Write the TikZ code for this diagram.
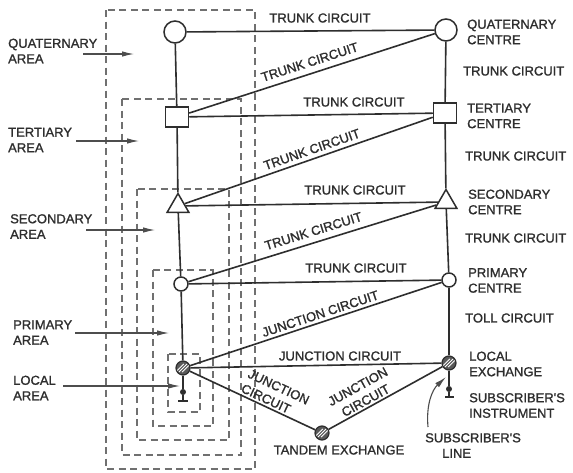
\documentclass[tikz,border=0pt]{standalone}
\usepackage{fontspec}
\setmainfont{Liberation Sans}
\newfontfamily\lblfont{Liberation Sans}[FakeBold=1.2]
\usetikzlibrary{shapes.geometric, arrows.meta}
\definecolor{ink}{HTML}{2E2E2E}
\definecolor{areagray}{HTML}{707070}
\begin{document}
\begin{tikzpicture}[x=1pt,y=-1pt,
  txt/.style={font=\lblfont\fontsize{13}{15.5}\selectfont, text=ink, inner sep=0pt, align=left},
  conn/.style={draw=ink, line width=1.6pt},
  area/.style={draw=areagray, line width=1.2pt, dash pattern=on 7pt off 4.5pt},
  pointer/.style={draw=ink!85, line width=1.1pt, -{Latex[length=12pt,width=5.5pt]}},
  bigc/.style={circle, draw=ink, line width=1.5pt, fill=white, minimum size=22pt, inner sep=0pt},
  sqn/.style={rectangle, draw=ink, line width=1.5pt, fill=white, minimum width=23pt, minimum height=20pt, inner sep=0pt},
  trin/.style={regular polygon, regular polygon sides=3, draw=ink, line width=1.5pt, fill=white, minimum size=25pt, inner sep=0pt},
  smc/.style={circle, draw=ink, line width=1.5pt, fill=white, minimum size=14pt, inner sep=0pt},
  hatc/.style={circle, draw=ink, line width=1.2pt, fill=gray!70!black, minimum size=14pt, inner sep=0pt,
    path picture={
      \foreach \c in {-3.2,0,3.2}{
        \draw[white, line width=0.8pt] ([shift={(\c pt-4pt,-4pt)}]path picture bounding box.center) -- ++(8pt,8pt);}
    }},
  dotn/.style={circle, fill=ink, minimum size=6pt, inner sep=0pt},
]
\useasboundingbox (0,0) rectangle (573,472);
\fill[white] (0,0) rectangle (573,472);

% area boxes
\draw[area] (106,10) rectangle (255,469);
\draw[area] (122,99) rectangle (241,455);
\draw[area] (137,189) rectangle (229,440);
\draw[area] (153,270) rectangle (213,426);
\draw[area] (168,354) rectangle (200,412);

% exchanges
\node[bigc] (qL) at (175,32) {};
\node[bigc] (qR) at (446,30) {};
\node[sqn] (tL) at (177,117) {};
\node[sqn] (tR) at (445,113) {};
\node[trin] (sL) at (178,206) {};
\node[trin] (sR) at (446,202) {};
\node[smc] (pL) at (181,284) {};
\node[smc] (pR) at (449,280) {};
\node[hatc] (lL) at (183,368) {};
\node[hatc] (lR) at (449,363) {};
\node[hatc] (tand) at (322,433) {};
\node[dotn] (iL) at (183,392) {};
\node[dotn] (iR) at (449,389) {};
\coordinate (bL) at (183,401);
\coordinate (bL1) at (178,401);
\coordinate (bL2) at (188,401);
\coordinate (bR) at (449,397);
\coordinate (bR1) at (445,397);
\coordinate (bR2) at (454,397);

% verticals
\draw[conn] (qL) -- (tL);
\draw[conn] (tL) -- (sL);
\draw[conn] (sL) -- (pL);
\draw[conn] (pL) -- (lL);
\draw[conn] (lL) -- (iL);
\draw[conn] (iL) -- (bL);
\draw[conn] (bL1) -- (bL2);
\draw[conn] (qR) -- (tR);
\draw[conn] (tR) -- (sR);
\draw[conn] (sR) -- (pR);
\draw[conn] (pR) -- (lR);
\draw[conn] (lR) -- (iR);
\draw[conn] (iR) -- (bR);
\draw[conn] (bR1) -- (bR2);

% horizontals
\draw[conn] (qL) -- (qR);
\draw[conn] (tL) -- (tR);
\draw[conn] (sL) -- (sR);
\draw[conn] (pL) -- (pR);
\draw[conn] (lL) -- (lR);

% diagonals
\draw[conn] (tL) -- node[txt, sloped, above=6pt, pos=0.505] {TRUNK CIRCUIT} (qR);
\draw[conn] (sL) -- node[txt, sloped, above=4pt, pos=0.525] {TRUNK CIRCUIT} (tR);
\draw[conn] (pL) -- node[txt, sloped, above=6pt, pos=0.518] {TRUNK CIRCUIT} (sR);
\draw[conn] (lL) -- node[txt, sloped, above=3pt, pos=0.528] {JUNCTION CIRCUIT} (pR);
\draw[conn] (lL) -- node[txt, sloped, above=2pt, pos=0.63, font=\lblfont\fontsize{13}{16}\selectfont] {JUNCTION\\CIRCUIT} (tand);
\draw[conn] (tand) -- node[txt, sloped, above=2pt, pos=0.356, align=center, font=\lblfont\fontsize{13}{16}\selectfont] {JUNCTION\\CIRCUIT} (lR);

% horizontal labels
\node[txt] (h1) at (320,18) {TRUNK CIRCUIT};
\node[txt] (h2) at (354,102) {TRUNK CIRCUIT};
\node[txt] (h3) at (355,190) {TRUNK CIRCUIT};
\node[txt] (h4) at (356,268) {TRUNK CIRCUIT};
\node[txt] (h5) at (340,356) {JUNCTION CIRCUIT};
\node[txt] (tandT) at (339,450) {TANDEM EXCHANGE};

% right labels
\node[txt, anchor=west] (rq) at (467,32) {QUATERNARY\\CENTRE};
\node[txt, anchor=west] (r1) at (463,71) {TRUNK CIRCUIT};
\node[txt, anchor=west] (rt) at (467,116) {TERTIARY\\CENTRE};
\node[txt, anchor=west] (r2) at (465,156) {TRUNK CIRCUIT};
\node[txt, anchor=west] (rs) at (468,202) {SECONDARY\\CENTRE};
\node[txt, anchor=west] (r3) at (465,238) {TRUNK CIRCUIT};
\node[txt, anchor=west] (rp) at (468,280.5) {PRIMARY\\CENTRE};
\node[txt, anchor=west] (r4) at (465,318) {TOLL CIRCUIT};
\node[txt, anchor=west] (rl) at (469,364) {LOCAL\\EXCHANGE};
\node[txt, anchor=west] (ri) at (469,405.5) {SUBSCRIBER'S\\INSTRUMENT};
\node[txt, anchor=west] (sl) at (425,445.5) {SUBSCRIBER'S\\\hspace*{17pt}LINE};
\coordinate (slA) at (428,427);
\coordinate (slB) at (446,377);
\draw[pointer] (slA) .. controls (426,405) and (432,390) .. (slB);

% left labels
\node[txt, anchor=west] (qa) at (8,51) {QUATERNARY\\AREA};
\node[txt, anchor=west] (ta) at (8,140) {TERTIARY\\AREA};
\node[txt, anchor=west] (sa) at (10,226.5) {SECONDARY\\AREA};
\node[txt, anchor=west] (pa) at (13,332.5) {PRIMARY\\AREA};
\node[txt, anchor=west] (la) at (13,388) {LOCAL\\AREA};
\coordinate (qaA) at (83,54);   \coordinate (qaB) at (134,54);
\coordinate (taA) at (76,141);  \coordinate (taB) at (139,141);
\coordinate (saA) at (86,230);  \coordinate (saB) at (155,230);
\coordinate (paA) at (75,333);  \coordinate (paB) at (169,333);
\coordinate (laA) at (63,386);  \coordinate (laB) at (180,386);
\draw[pointer] (qaA) -- (qaB);
\draw[pointer] (taA) -- (taB);
\draw[pointer] (saA) -- (saB);
\draw[pointer] (paA) -- (paB);
\draw[pointer] (laA) -- (laB);
\end{tikzpicture}
\end{document}
